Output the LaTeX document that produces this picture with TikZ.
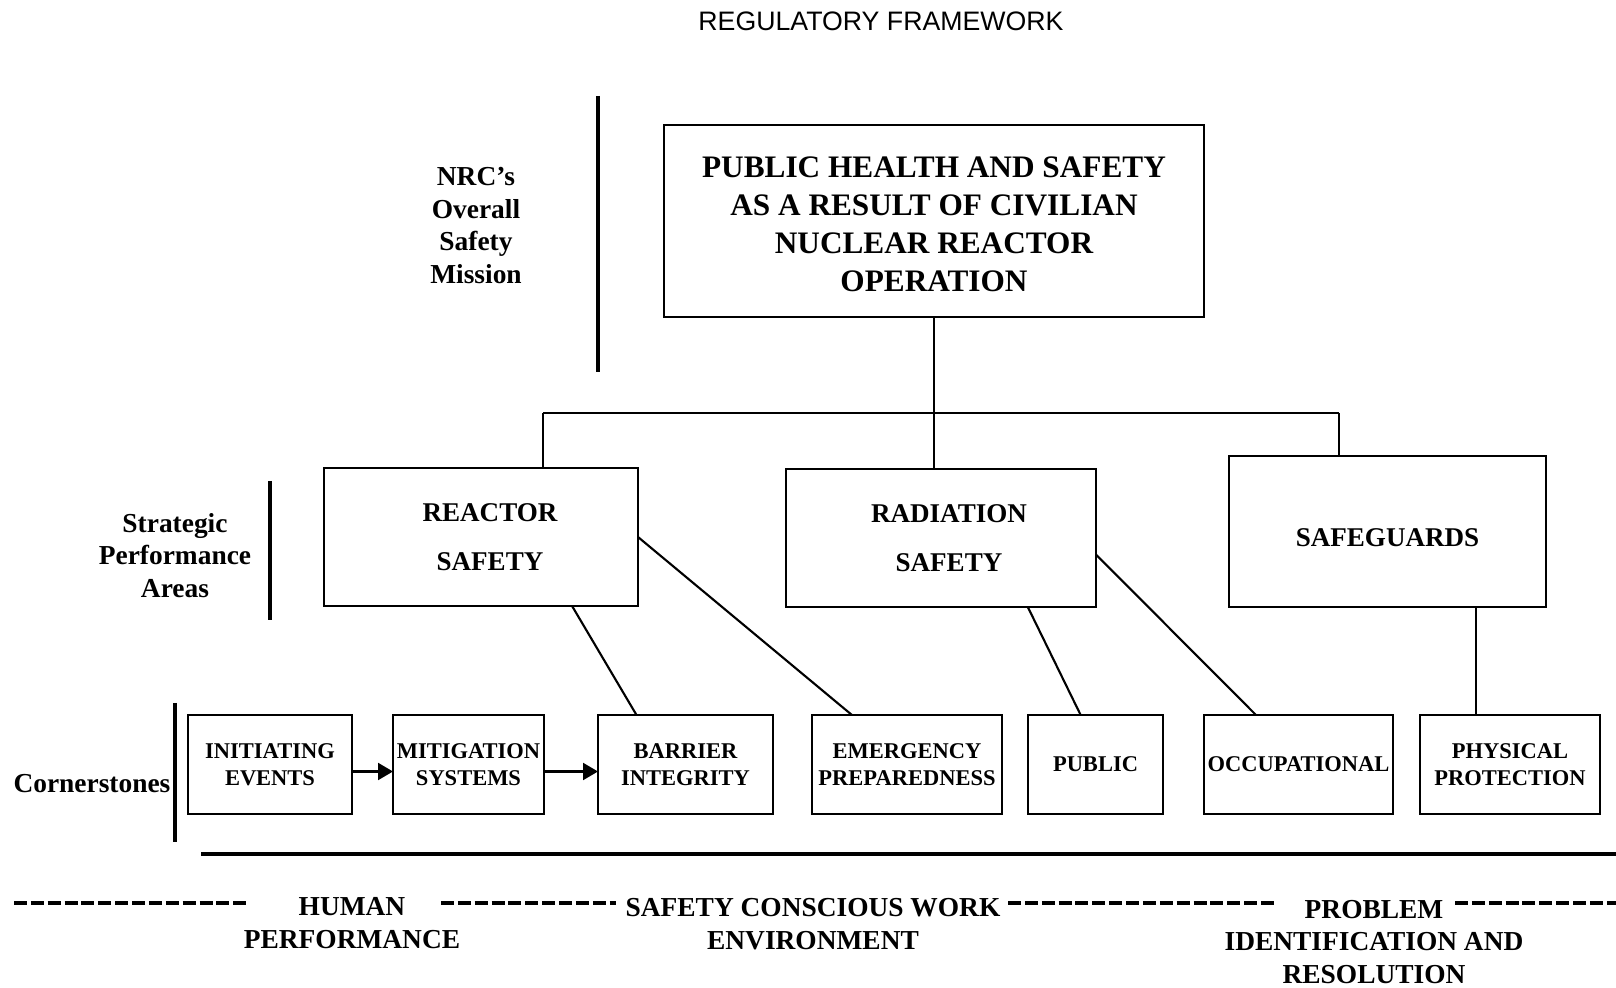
\documentclass[tikz,border=0pt]{standalone}
\usepackage{fontspec}
\setmainfont{Liberation Serif}
\newfontfamily\titlefont{Liberation Sans}
\usepackage{tikz}
\usetikzlibrary{arrows.meta,positioning,calc}

\begin{document}
\begin{tikzpicture}[
    node distance=0.4cm,
    mainbox/.style={rectangle, draw, line width=0.8pt, inner sep=0pt, outer sep=0pt, align=center, minimum width=5.40cm, minimum height=1.92cm, font=\bfseries\fontsize{8.9}{10.8}\selectfont},
    areabox/.style={rectangle, draw, line width=0.8pt, inner sep=0pt, outer sep=0pt, align=center, minimum height=1.38cm, font=\bfseries\fontsize{7.7}{13.9}\selectfont},
    stonebox/.style={rectangle, draw, line width=0.8pt, inner sep=0pt, outer sep=0pt, align=center, minimum height=0.99cm, font=\bfseries\fontsize{6.4}{7.8}\selectfont},
    sidelabel/.style={align=center, inner sep=0pt, font=\bfseries\fontsize{7.8}{9.35}\selectfont},
    link/.style={line width=0.6pt},
    flow/.style={link, -{Triangle[length=1.5mm, width=1.7mm]}},
    rule/.style={line width=0.9pt},
    dashrule/.style={line width=1pt, dash pattern=on 3.7pt off 1.1pt}
]
\useasboundingbox (0,0) rectangle (16.16,-9.88);

% Title
\node[inner sep=0pt, font=\titlefont\fontsize{7.6}{9}\selectfont] (title) at (8.81,-0.21) {REGULATORY FRAMEWORK};

% Top row
\node[mainbox, text height=1.42cm] (mission) at (9.34,-2.21) {PUBLIC HEALTH AND SAFETY\\AS A RESULT OF CIVILIAN\\NUCLEAR REACTOR\\OPERATION};
\node[sidelabel] (nrc) at (4.76,-2.255) {NRC's\\Overall\\Safety\\Mission};

% Middle row
\node[areabox, minimum width=3.14cm, text width=2.96cm] (reactor) at (4.81,-5.37) {\hspace*{0.18cm}REACTOR\\\hspace*{0.18cm}SAFETY};
\node[areabox, minimum width=3.10cm, text width=2.94cm] (radiation) at (9.41,-5.38) {\hspace*{0.16cm}RADIATION\\\hspace*{0.16cm}SAFETY};
\node[areabox, minimum width=3.17cm, minimum height=1.51cm, text height=0.30cm] (safeguards) at (13.875,-5.315) {SAFEGUARDS};
\node[sidelabel] (areas) at (1.75,-5.555) {Strategic\\Performance\\Areas};

% Bottom row
\node[stonebox, minimum width=1.64cm] (initiating) at (2.70,-7.645) {INITIATING\\EVENTS};
\node[stonebox, minimum width=1.51cm, right=0.41cm of initiating] (mitigation) {MITIGATION\\SYSTEMS};
\node[stonebox, minimum width=1.75cm, right=0.54cm of mitigation] (barrier) {BARRIER\\INTEGRITY};
\node[stonebox, minimum width=1.90cm, right=0.39cm of barrier] (emergency) {EMERGENCY\\PREPAREDNESS};
\node[stonebox, minimum width=1.35cm, right=0.26cm of emergency] (public) {PUBLIC};
\node[stonebox, minimum width=1.89cm, right=0.41cm of public] (occupational) {OCCUPATIONAL};
\node[stonebox, minimum width=1.80cm, right=0.27cm of occupational] (physical) {PHYSICAL\\PROTECTION};
\node[sidelabel] (cornerstones) at (0.92,-7.84) {Cornerstones};

% Cross-cutting areas
\node[sidelabel] (human) at (3.52,-9.235) {HUMAN\\PERFORMANCE};
\node[sidelabel] (scwe) at (8.13,-9.245) {SAFETY CONSCIOUS WORK\\ENVIRONMENT};
\node[sidelabel] (pir) at (13.74,-9.42) {PROBLEM\\IDENTIFICATION AND\\RESOLUTION};

% Tree
\coordinate (busL) at (5.43,-4.13);
\coordinate (busR) at (13.39,-4.13);
\draw[link] (mission.south) -- (mission.south |- busL);
\draw[link] (busL) -- (busR);
\draw[link] (busL) -- (busL |- reactor.north);
\draw[link] (mission.south |- busL) -- (mission.south |- radiation.north);
\draw[link] (busR) -- (busR |- safeguards.north);

% Areas to cornerstones
\draw[link] ($(reactor.south west)!0.79!(reactor.south east)$) -- ($(barrier.north west)!0.22!(barrier.north east)$);
\draw[link] (reactor.east) -- ($(emergency.north west)!0.21!(emergency.north east)$);
\draw[link] ($(radiation.south west)!0.78!(radiation.south east)$) -- ($(public.north west)!0.39!(public.north east)$);
\draw[link] ($(radiation.north east)!0.62!(radiation.south east)$) -- ($(occupational.north west)!0.275!(occupational.north east)$);
\coordinate (pp) at ($(physical.north west)!0.31!(physical.north east)$);
\draw[link] (pp |- safeguards.south) -- (pp);

% Arrows
\draw[flow] ([yshift=-0.07cm]initiating.east) -- ([yshift=-0.07cm]mitigation.west);
\draw[flow] ([yshift=-0.07cm]mitigation.east) -- ([yshift=-0.07cm]barrier.west);

% Separators
\draw[rule] (5.98,-0.96) -- (5.98,-3.72);
\draw[rule] (2.70,-4.81) -- (2.70,-6.20);
\draw[rule] (1.75,-7.03) -- (1.75,-8.42);
\draw[line width=1pt] (2.01,-8.54) -- (16.16,-8.54);

% Dashed rules
\draw[dashrule] (0.14,-9.03) -- (2.50,-9.03);
\draw[dashrule] (4.41,-9.03) -- (6.16,-9.03);
\draw[dashrule] (10.08,-9.03) -- (12.76,-9.03);
\draw[dashrule] (14.55,-9.03) -- (16.16,-9.03);

\end{tikzpicture}
\end{document}
